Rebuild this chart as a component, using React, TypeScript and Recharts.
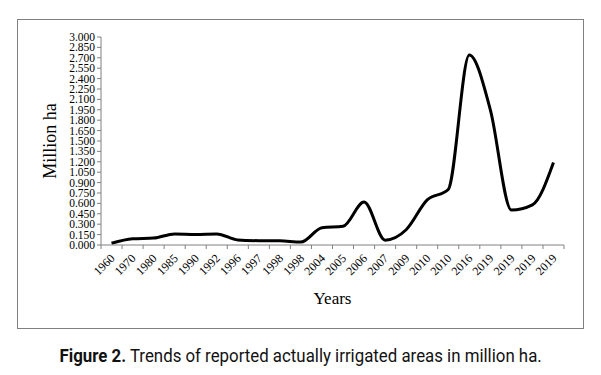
import { LineChart, Line, XAxis, YAxis } from 'recharts'

const years = [
  '1960', '1970', '1980', '1985', '1990', '1992', '1996', '1997', '1998', '1998', '2004',
  '2005', '2006', '2007', '2009', '2010', '2010', '2016', '2019', '2019', '2019', '2019',
]
const area = [
  0.025, 0.09, 0.1, 0.16, 0.15, 0.16, 0.072, 0.062, 0.06, 0.043, 0.25,
  0.27, 0.62, 0.07, 0.22, 0.65, 0.8, 2.74, 1.95, 0.505, 0.58, 1.19,
]
const yTicks = [
  0, 0.15, 0.3, 0.45, 0.6, 0.75, 0.9, 1.05, 1.2, 1.35, 1.5,
  1.65, 1.8, 1.95, 2.1, 2.25, 2.4, 2.55, 2.7, 2.85, 3,
]

const data = years.map((year, i) => ({ key: i, year, area: area[i] }))

const W = 601
const H = 340
const M = { top: 37, right: 37, bottom: 0, left: 41 }
const YW = 60
const band = (W - M.left - YW - M.right) / years.length
const serif = '"Liberation Serif", "Times New Roman", serif'

const XTick = (props: any) => {
  const { x, y, payload, index } = props
  const last = index === years.length - 1
  return (
    <g>
      <line x1={x - band / 2} y1={y - 8} x2={x - band / 2} y2={y - 4} stroke="#808080" />
      {last && <line x1={x + band / 2} y1={y - 8} x2={x + band / 2} y2={y - 4} stroke="#808080" />}
      <text
        x={x + 4}
        y={y + 6}
        textAnchor="end"
        transform={`rotate(-45 ${x + 4} ${y + 6})`}
        fontFamily={serif}
        fontSize={12}
        fill="#000"
      >
        {years[payload.value]}
      </text>
    </g>
  )
}

export default function App() {
  return (
    <div style={{ position: 'absolute', left: 0, top: 0, width: W, height: 375, background: '#fff' }}>
      <div
        style={{
          position: 'absolute',
          left: 17,
          top: 19,
          width: 565,
          height: 308,
          border: '1px solid #808080',
        }}
      />
      <div style={{ position: 'absolute', left: 0, top: 0 }}>
        <LineChart width={W} height={H} data={data} margin={M}>
          <XAxis
            dataKey="key"
            type="category"
            height={H - 245 - M.bottom}
            padding={{ left: band / 2, right: band / 2 }}
            stroke="#808080"
            tickLine={false}
            interval={0}
            tick={<XTick />}
            label={{ value: 'Years', position: 'insideTop', dy: 42, fontFamily: serif, fontSize: 17, fill: '#000' }}
          />
          <YAxis
            width={YW}
            domain={[0, 3]}
            ticks={yTicks}
            interval={0}
            stroke="#808080"
            tickSize={4}
            tickFormatter={(v: number) => v.toFixed(3)}
            tick={{ fontFamily: serif, fontSize: 11.5, fill: '#000' }}
            label={{
              value: 'Million ha',
              angle: -90,
              position: 'insideLeft',
              dx: 4,
              dy: 0,
              fontFamily: serif,
              fontSize: 18,
              fill: '#000',
              style: { textAnchor: 'middle' },
            }}
          />
          <Line
            type="monotone"
            dataKey="area"
            stroke="#000"
            strokeWidth={3}
            dot={false}
            isAnimationActive={false}
          />
        </LineChart>
      </div>
      <div
        style={{
          position: 'absolute',
          left: 0,
          top: 345,
          width: W,
          textAlign: 'center',
          fontFamily: '"Liberation Sans Narrow", "Roboto", sans-serif',
          fontSize: 18.5,
          color: '#111',
          transform: 'scaleX(0.91)',
          transformOrigin: '302px 0',
        }}
      >
        <b>Figure 2.</b> Trends of reported actually irrigated areas in million ha.
      </div>
    </div>
  )
}
